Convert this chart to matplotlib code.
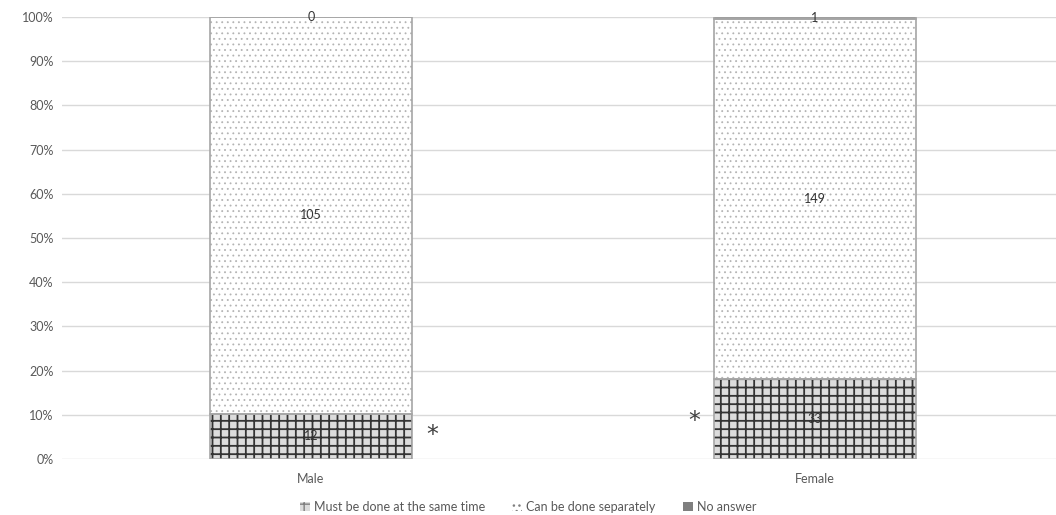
import numpy as np
import matplotlib
matplotlib.use("Agg")
import matplotlib.pyplot as plt

plt.rcParams['font.family'] = ['Lato', 'DejaVu Sans']

groups = ["Male", "Female"]
series = ["Must be done at the same time", "Can be done separately", "No answer"]
same_time = [12, 33]
separately = [105, 149]
no_answer = [0, 1]

counts = np.array([same_time, separately, no_answer], dtype=float)
shares = counts / counts.sum(axis=0)

W, H = 1056, 515
fig = plt.figure(figsize=(W / 100, H / 100), dpi=100)
ax = fig.add_axes([62 / W, 1 - 459 / H, (W - 62) / W, (459 - 17) / H])

styles = [
    dict(facecolor="#dcdcdc", hatch="++", edgecolor="#333333", hlw=1.3),
    dict(facecolor="white", hatch="...", edgecolor="#b4b4b4", hlw=0.6),
    dict(facecolor="#7f7f7f", hatch="", edgecolor="#7f7f7f", hlw=1.0),
]


def set_hlw(patch, lw):
    if hasattr(patch, "set_hatch_linewidth"):
        patch.set_hatch_linewidth(lw)


x = np.arange(len(groups))
width = 0.40
bottom = np.zeros(len(groups))
handles = []
for i, name in enumerate(series):
    st = styles[i]
    plt.rcParams['hatch.linewidth'] = st["hlw"]
    bars = ax.bar(x, shares[i], width, bottom=bottom, color=st["facecolor"],
                  hatch=st["hatch"], edgecolor=st["edgecolor"], linewidth=0,
                  label=name, zorder=2)
    for p in bars:
        set_hlw(p, st["hlw"])
    # grey outline drawn separately so the hatch colour stays independent
    ax.bar(x, shares[i], width, bottom=bottom, fill=False,
           edgecolor="#a6a6a6", linewidth=1.2, zorder=3)
    handles.append(bars)
    for j in range(len(groups)):
        ax.text(x[j], bottom[j] + shares[i][j] / 2, f"{int(counts[i][j])}",
                ha="center", va="center", fontsize=9, color="#333333", zorder=4)
    bottom += shares[i]

# significance markers beside the "same time" segments
ax.text(x[0] + 0.24, 0.055, "*", fontsize=17, color="#404040",
        ha="center", va="center", family="DejaVu Sans")
ax.text(x[1] - 0.24, 0.085, "*", fontsize=17, color="#404040",
        ha="center", va="center", family="DejaVu Sans")

ax.set_xlim(-(311 - 62) / 504, (W - 311) / 504)
ax.set_ylim(0, 1)
ax.set_yticks(np.arange(0, 1.01, 0.1))
ax.set_yticklabels([f"{int(round(v * 100))}%" for v in np.arange(0, 1.01, 0.1)])
ax.set_xticks(x)
ax.set_xticklabels(groups)
ax.tick_params(axis="both", length=0, labelsize=9, colors="#595959")
ax.tick_params(axis="y", pad=6)
ax.tick_params(axis="x", pad=10)
ax.grid(axis="y", color="#d9d9d9", linewidth=1, zorder=0)
ax.set_axisbelow(True)
for s in ax.spines.values():
    s.set_visible(False)

leg = fig.legend(handles=handles, labels=series, loc="center",
                 bbox_to_anchor=(0.5, 1 - 507 / H), ncol=3, frameon=False,
                 fontsize=9, handlelength=0.8, handleheight=0.8,
                 handletextpad=0.3, columnspacing=2.2)
for t in leg.get_texts():
    t.set_color("#595959")
for h in leg.legend_handles:
    h.set_edgecolor("#7f7f7f")

fig.savefig("out.png", dpi=100)
